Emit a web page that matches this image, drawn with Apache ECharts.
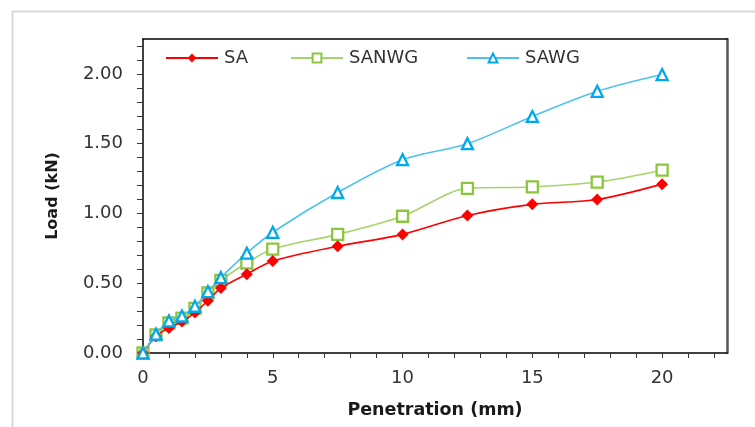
<!DOCTYPE html>
<html><head><meta charset="utf-8">
<script src="https://cdn.jsdelivr.net/npm/echarts@6/dist/echarts.min.js"></script>
<style>html,body{margin:0;padding:0;background:#fff}#c{width:755px;height:427px}</style>
</head><body><div id="c"></div>
<script>
var penetration = [0, 0.5, 1, 1.5, 2, 2.5, 3, 4, 5, 7.5, 10, 12.5, 15, 17.5, 20];
var SA    = [0, 0.12, 0.18, 0.225, 0.29, 0.375, 0.465, 0.565, 0.66, 0.765, 0.85, 0.985, 1.065, 1.10, 1.21];
var SANWG = [0, 0.13, 0.215, 0.25, 0.32, 0.43, 0.52, 0.645, 0.745, 0.85, 0.98, 1.18, 1.19, 1.225, 1.31];
var SAWG  = [0, 0.135, 0.23, 0.265, 0.335, 0.44, 0.54, 0.715, 0.865, 1.15, 1.385, 1.50, 1.695, 1.875, 1.995];
var seriesNames = ['SA', 'SANWG', 'SAWG'];

function pairs(ys){ return penetration.map(function(x,i){ return [x, ys[i]]; }); }
var FONT = '"DejaVu Sans", "Noto Sans", sans-serif';
var chart = echarts.init(document.getElementById('c'));
var lgBase = {top: 49, padding: 0, itemWidth: 52, itemHeight: 11, itemGap: 0,
  textStyle: {fontFamily: FONT, fontSize: 18, color: '#333', padding: [0,0,0,1]}};
chart.setOption({
  animation: false,
  backgroundColor: '#fff',
  graphic: [{type: 'rect', left: 10, top: 9, shape: {width: 800, height: 500},
    style: {fill: 'none', stroke: '#d9d9d9', lineWidth: 2}, z: -1}],
  legend: [
    Object.assign({left: 165, data: [seriesNames[0]]}, lgBase),
    Object.assign({left: 290, data: [seriesNames[1]]}, lgBase),
    Object.assign({left: 466, data: [seriesNames[2]]}, lgBase)
  ],
  grid: {left: 143, right: 28, top: 39, bottom: 74},
  xAxis: [{
    type: 'value', min: 0, max: 22.5, interval: 1,
    name: 'Penetration (mm)', nameLocation: 'middle', nameGap: 48,
    nameTextStyle: {fontFamily: FONT, fontSize: 17.5, fontWeight: 'bold', color: '#1a1a1a'},
    axisLine: {show: true, onZero: false, lineStyle: {color: '#000', width: 1.5}},
    axisTick: {show: true, length: 5, lineStyle: {color: '#333'}},
    axisLabel: {margin: 16, fontFamily: FONT, fontSize: 18, color: '#333', showMaxLabel: false,
      formatter: function(v){ return (Math.round(v) % 5 === 0 && Math.abs(v - Math.round(v)) < 1e-6) ? String(Math.round(v)) : ''; }},
    splitLine: {show: false}
  }, {
    type: 'value', position: 'top', min: 0, max: 22.5,
    axisLine: {show: true, onZero: false, lineStyle: {color: '#000', width: 1.5}},
    axisTick: {show: false}, axisLabel: {show: false}, splitLine: {show: false}
  }],
  yAxis: [{
    type: 'value', min: 0, max: 2.25, interval: 0.1,
    name: 'Load (kN)', nameLocation: 'middle', nameGap: 82,
    nameTextStyle: {fontFamily: FONT, fontSize: 16, fontWeight: 'bold', color: '#1a1a1a'},
    axisLine: {show: true, onZero: false, lineStyle: {color: '#000', width: 1.5}},
    axisTick: {show: true, length: 6, lineStyle: {color: '#333'}},
    axisLabel: {margin: 20, fontFamily: FONT, fontSize: 18, color: '#333', showMaxLabel: false,
      formatter: function(v){ var t = Math.round(v*10); return (t % 5 === 0) ? v.toFixed(2) : ''; }},
    splitLine: {show: false}
  }, {
    type: 'value', position: 'right', min: 0, max: 2.25,
    axisLine: {show: true, onZero: false, lineStyle: {color: '#555', width: 2.5}},
    axisTick: {show: false}, axisLabel: {show: false}, splitLine: {show: false}
  }],
  series: [{
    name: seriesNames[0], type: 'line', data: pairs(SA), smooth: 0.3,
    symbol: 'diamond', symbolSize: 12,
    lineStyle: {color: '#ff0000', width: 1.6},
    itemStyle: {color: '#ff0000', borderColor: '#ff0000', borderWidth: 0}, z: 3
  }, {
    name: seriesNames[1], type: 'line', data: pairs(SANWG), smooth: 0.3,
    symbol: 'rect', symbolSize: 11,
    lineStyle: {color: '#a6d46c', width: 1.6},
    itemStyle: {color: '#ffffff', borderColor: '#8cc63f', borderWidth: 2.3}, z: 2
  }, {
    name: seriesNames[2], type: 'line', data: pairs(SAWG), smooth: 0.3,
    symbol: 'triangle', symbolSize: 11,
    lineStyle: {color: '#4cc3ee', width: 1.6},
    itemStyle: {color: '#ffffff', borderColor: '#00a8ec', borderWidth: 2.3}, z: 4
  }]
});
</script></body></html>
